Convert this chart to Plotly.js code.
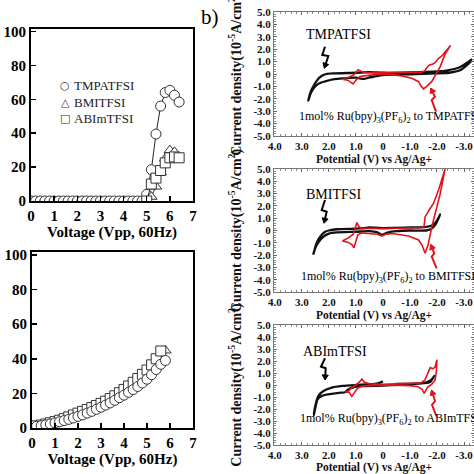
<!DOCTYPE html>
<html><head><meta charset="utf-8">
<script src="https://cdn.plot.ly/plotly-3.0.1.min.js"></script>
<style>html,body{margin:0;padding:0;background:#fff}</style>
</head><body><div id="chart" style="width:474px;height:474px"></div>
<script>
// ---------- (a) top: luminance vs voltage ----------
const seriesNames = ['TMPATFSI', 'BMITFSI', 'ABImTFSI'];
const legendGlyphs = ['○', '△', '□'];
const tlVoltTMPA = [0,0.2,0.4,0.6,0.8,1.0,1.2,1.4,1.6,1.8,2.0,2.2,2.4,2.6,2.8,3.0,3.2,3.4,3.6,3.8,4.0,4.2,4.4,4.6,4.8,5.0,5.2,5.4,5.6,5.8,6.0,6.2,6.4];
const tlValTMPA  = [0,0,0,0,0,0,0,0,0,0,0,0,0,0,0,0,0,0,0,0,0,0,0,0,0,3.9,18.5,39.5,56,64,65.3,62.4,58.4];
const tlVoltBMI  = [5.0,5.2,5.4,5.6,5.8,6.0,6.2];
const tlValBMI   = [0,2.5,8.5,17,25,30,29];
const tlVoltABIm = [5.0,5.2,5.4,5.6,5.8,6.0,6.2,6.4];
const tlValABIm  = [0,10,13.5,18,22.5,25.5,26,25.5];

// ---------- (a) bottom: peak intensity vs voltage ----------
const blVolt = [0.2,0.4,0.6,0.8,1.0,1.2,1.4,1.6,1.8,2.0,2.2,2.4,2.6,2.8,3.0,3.2,3.4,3.6,3.8,4.0,4.2,4.4,4.6,4.8,5.0,5.2,5.4,5.6,5.8];
const blValTMPA = [1.0,1.3,1.8,2.3,2.9,3.6,4.3,5.0,5.8,6.7,7.6,8.6,9.6,10.8,12.0,13.2,14.5,16.0,17.5,19.0,20.6,22.2,24.0,26.0,28.2,30.8,33.8,36.8,39.0];
const blValBMI  = [1.2,1.6,2.2,2.9,3.6,4.4,5.3,6.3,7.4,8.5,9.5,10.6,11.7,13.0,14.3,15.7,17.2,18.9,20.8,22.8,24.8,26.8,29.0,31.3,33.6,36.2,39.0,42.0,44.8];
const blVoltABIm = [0.2,0.4,0.6,0.8,1.0,1.2,1.4,1.6,1.8,2.0,2.2,2.4,2.6,2.8,3.0,3.2,3.4,3.6,3.8,4.0,4.2,4.4,4.6,4.8,5.0,5.2,5.4,5.6];
const blValABIm = [1.3,1.7,2.3,3.0,3.7,4.5,5.4,6.4,7.5,8.6,9.6,10.7,11.8,13.0,14.2,15.5,17.0,18.6,20.4,22.3,24.3,26.4,28.6,31.0,33.5,36.5,40.0,44.5];

// ---------- (b) cyclic voltammograms ----------
const cv1BlackV = [-3.3,-3.1,-2.8,-2.4,-2.0,-1.0,0.0,0.5,1.0,1.8,2.1,2.3,2.45,2.6,2.7,2.76,2.68,2.55,2.35,2.14,1.8,1.5,1.0,0.7,0.5,0.3,0.0,-1.0,-2.0,-2.5,-2.9,-3.1,-3.3];
const cv1BlackI = [1.2,0.9,0.5,0.3,0.2,0.12,0.1,0.15,0.1,0.05,0.0,-0.2,-0.55,-1.1,-1.6,-2.15,-1.6,-1.1,-0.75,-0.6,-0.42,-0.35,-0.3,-0.4,-0.28,-0.2,-0.08,-0.02,0.05,0.12,0.35,0.7,1.1];
const cv1RedV = [1.45,1.3,1.1,1.0,0.92,0.85,0.7,0.3,0.0,-0.5,-1.0,-1.4,-1.55,-1.62,-1.72,-1.85,-1.95,-2.06,-2.18,-2.35,-2.5,-2.3,-2.12,-1.95,-1.81,-1.62,-1.5,-1.4,-1.32,-1.07,-0.7,-0.3,0.0,0.3,0.6,0.85,1.0,1.1,1.2,1.3,1.45,1.45];
const cv1RedI = [-0.3,-0.3,-0.1,0.1,0.35,0.25,0.1,0.1,0.1,0.12,0.12,0.15,0.25,0.5,0.73,0.8,0.95,1.27,1.45,1.9,2.3,1.6,0.6,-0.05,-0.6,-1.0,-1.2,-0.95,-0.62,-0.35,-0.15,-0.05,0.0,-0.05,-0.1,-0.2,-0.5,-0.8,-0.65,-0.5,-0.45,-0.3];

const cv2BlackV = [-2.12,-2.0,-1.85,-1.62,-1.0,0.0,0.5,0.7,1.0,1.7,2.0,2.14,2.3,2.45,2.57,2.5,2.4,2.2,2.0,1.7,1.0,0.5,0.2,0.04,-0.2,-0.5,-1.0,-1.6,-1.8,-1.95,-2.12];
const cv2BlackI = [1.3,0.8,0.45,0.3,0.25,0.2,0.25,0.2,0.15,0.1,0.0,-0.1,-0.45,-1.0,-1.9,-1.4,-1.0,-0.5,-0.25,-0.15,-0.1,-0.05,-0.15,-0.35,-0.15,-0.05,0.0,0.0,0.15,0.5,1.3];
const cv2RedV = [1.5,1.28,1.1,1.02,0.96,0.9,0.8,0.4,0.0,-0.5,-1.0,-1.4,-1.52,-1.56,-1.71,-1.87,-2.06,-2.18,-2.3,-2.12,-1.93,-1.81,-1.67,-1.56,-1.45,-1.32,-0.95,-0.33,-0.1,0.04,0.2,0.5,0.8,0.93,1.0,1.07,1.15,1.3,1.5];
const cv2RedI = [-0.85,-0.6,-0.3,0.3,0.65,0.35,0.15,0.18,0.15,0.18,0.2,0.22,0.3,1.1,1.67,2.2,3.3,4.1,5.0,3.0,1.42,0.31,-1.18,-1.85,-1.2,-0.77,-0.45,-0.25,-0.3,-0.45,-0.3,-0.25,-0.2,-0.35,-0.9,-1.4,-1.15,-0.95,-0.85];

const cv3BlackV = [0.0,0.1,0.3,0.6,1.0,1.5,1.89,2.2,2.39,2.5,2.56,2.5,2.42,2.3,2.1,1.83,1.55,1.4,1.3,1.1,0.8,0.0,-1.0,-1.5,-1.7,-1.8,-1.9,-1.75,-1.5,-1.0,-0.5];
const cv3BlackI = [0.3,0.2,0.1,0.05,0.0,-0.08,-0.22,-0.5,-0.92,-1.7,-2.5,-1.9,-1.2,-0.95,-0.8,-0.72,-0.64,-0.6,-0.4,-0.2,-0.1,-0.05,0.05,0.15,0.3,0.45,0.75,0.25,0.15,0.1,0.1];
const cv3RedV = [1.4,1.25,1.15,1.0,0.85,0.78,0.7,0.5,0.0,-0.5,-1.0,-1.4,-1.55,-1.62,-1.7,-1.75,-1.85,-1.93,-2.0,-1.98,-1.93,-1.8,-1.65,-1.53,-1.45,-1.3,-1.0,-0.5,0.0,0.5,0.8,0.95,1.05,1.15,1.25,1.4];
const cv3RedI = [-0.6,-0.45,-0.2,0.0,0.3,0.5,0.25,0.1,0.05,0.1,0.12,0.18,0.4,0.75,1.2,1.45,1.35,1.5,2.1,1.2,0.4,0.05,-0.2,-0.7,-0.35,-0.15,-0.05,-0.02,0.0,-0.05,-0.1,-0.3,-0.6,-0.95,-0.6,-0.6];

const cvXTickVals = [4,3,2,1,0,-1,-2,-3];
const cvXTickText = ['4.0','3.0','2.0','1.0','0','-1.0','-2.0','-3.0'];
const cvYTickVals = [5,4,3,2,1,0,-1,-2,-3,-4,-5];
const cvYTickText = ['5.0','4.0','3.0','2.0','1.0','0','-1.0','-2.0','-3.0','-4.0','-5.0'];
const cvLabels = ['TMPATFSI','BMITFSI','ABImTFSI'];
const redLabels = ['1mol% Ru(bpy)<sub>3</sub>(PF<sub>6</sub>)<sub>2</sub> to TMPATFSI',
                   '1mol% Ru(bpy)<sub>3</sub>(PF<sub>6</sub>)<sub>2</sub> to BMITFSI',
                   '1mol% Ru(bpy)<sub>3</sub>(PF<sub>6</sub>)<sub>2</sub> to ABImTFSI'];

// ---------- styling ----------
const W = 474;
const SERIF = '"Liberation Serif", "Times New Roman", serif';
const RED = '#e3131b';
const fx = p => p / W;           // pixel -> paper x
const fy = p => 1 - p / W;       // pixel -> paper y

const mk = (sym) => ({symbol: sym, size: 10, color: '#ffffff', line: {color: '#333', width: 1}});

const traces = [
  {x: tlVoltTMPA, y: tlValTMPA, xaxis:'x', yaxis:'y', mode:'lines+markers', line:{color:'#222', width:1}, marker: mk('circle'), name: seriesNames[0]},
  {x: tlVoltBMI,  y: tlValBMI,  xaxis:'x', yaxis:'y', mode:'lines+markers', line:{color:'#222', width:1}, marker: mk('triangle-up'), name: seriesNames[1]},
  {x: tlVoltABIm, y: tlValABIm, xaxis:'x', yaxis:'y', mode:'lines+markers', line:{color:'#222', width:1}, marker: mk('square'), name: seriesNames[2]},
  {x: blVolt, y: blValBMI,  xaxis:'x2', yaxis:'y2', mode:'markers', marker: mk('triangle-up'), name: seriesNames[1]},
  {x: blVoltABIm, y: blValABIm, xaxis:'x2', yaxis:'y2', mode:'markers', marker: mk('square'), name: seriesNames[2]},
  {x: blVolt, y: blValTMPA, xaxis:'x2', yaxis:'y2', mode:'markers', marker: mk('circle'), name: seriesNames[0]},
  // CV
  {x: cv1BlackV, y: cv1BlackI, xaxis:'x3', yaxis:'y3', mode:'lines', line:{color:'#111', width:2.3, shape:'spline', smoothing:0.6}},
  {x: cv1RedV, y: cv1RedI, xaxis:'x3', yaxis:'y3', mode:'lines', line:{color:RED, width:1.6}},
  {x: cv2BlackV, y: cv2BlackI, xaxis:'x4', yaxis:'y4', mode:'lines', line:{color:'#111', width:2.3, shape:'spline', smoothing:0.6}},
  {x: cv2RedV, y: cv2RedI, xaxis:'x4', yaxis:'y4', mode:'lines', line:{color:RED, width:1.6}},
  {x: cv3BlackV, y: cv3BlackI, xaxis:'x5', yaxis:'y5', mode:'lines', line:{color:'#111', width:2.3, shape:'spline', smoothing:0.6}},
  {x: cv3RedV, y: cv3RedI, xaxis:'x5', yaxis:'y5', mode:'lines', line:{color:RED, width:1.6}},
];

function leftX(dom, anchor) {
  return {domain: dom, anchor: anchor, range: [0, 7], dtick: 1, tick0: 0,
    ticks: 'inside', ticklen: 5, tickwidth: 1.5, tickcolor: '#000',
    showline: true, linewidth: 2, linecolor: '#000', mirror: true, showgrid: false, zeroline: false,
    tickfont: {family: SERIF, size: 15, color: '#000', weight: 'bold'},
    title: {text: '<b>Voltage (Vpp, 60Hz)</b>', font: {family: SERIF, size: 15, color: '#000'}, standoff: 0}};
}
function leftY(dom, anchor, top) {
  return {domain: dom, anchor: anchor, range: [0, top], dtick: 20, tick0: 0,
    ticks: 'inside', ticklen: 5, tickwidth: 1.5, tickcolor: '#000',
    showline: true, linewidth: 2, linecolor: '#000', mirror: true, showgrid: false, zeroline: false,
    tickfont: {family: SERIF, size: 15, color: '#000', weight: 'bold'}};
}
function cvX(anchor) {
  return {domain: [fx(274), 1], anchor: anchor, range: [4.03, -3.37],
    tickmode: 'array', tickvals: cvXTickVals, ticktext: cvXTickText,
    ticks: 'inside', ticklen: 3, tickcolor: '#666',
    minor: {ticks: 'inside', ticklen: 2, tickcolor: '#888', dtick: 0.2, tick0: 0},
    showline: true, linewidth: 1, linecolor: '#777', mirror: 'allticks', showgrid: false, zeroline: false,
    tickfont: {family: SERIF, size: 11, color: '#111', weight: 'bold'},
    title: {text: '<b>Potential (V) vs Ag/Ag+</b>', font: {family: SERIF, size: 11.5, color: '#111'}, standoff: 3}};
}
function cvY(dom, anchor) {
  return {domain: dom, anchor: anchor, range: [-5, 5],
    tickmode: 'array', tickvals: cvYTickVals, ticktext: cvYTickText,
    ticks: 'inside', ticklen: 3, tickcolor: '#666',
    minor: {ticks: 'inside', ticklen: 2, tickcolor: '#888', dtick: 0.2, tick0: 0},
    showline: true, linewidth: 1, linecolor: '#777', mirror: 'allticks', showgrid: false, zeroline: false,
    tickfont: {family: SERIF, size: 11, color: '#111', weight: 'bold'},
    title: {text: '<b>Current density(10<sup>-5</sup>A/cm<sup>2</sup>)</b>', font: {family: SERIF, size: 14, color: '#111'}, standoff: 8}};
}

const legendGlyphPos = [[65, 85], [65, 102], [65, 119]];
const legendTextPos = [[72, 85], [72, 102], [72, 119]];
const cvBlackText = [[338, 35], [334, 194], [335, 351]];
const cvRedText = [[297, 117], [299, 277], [298, 419]];
const blackZig = [
  [[325,46.7],[322.3,55],[328.3,56],[324.3,68.3]],
  [[325,200],[321.7,210],[326.7,211.7],[324,223.3]],
  [[325,358.3],[321,366.7],[325.7,368.3],[325,380]]];
const redZig = [
  [[436,111.7],[431.7,100],[435,96.7],[430.7,88]],
  [[436.7,268.3],[431.7,256.7],[434.3,253.3],[430.7,244.3]],
  [[436.7,416.7],[432,405],[435,401],[431.5,390]]];

const annotations = [
  {text: 'b)', x: fx(210), y: fy(17), xref: 'paper', yref: 'paper', xanchor: 'center', yanchor: 'middle', showarrow: false,
   font: {family: SERIF, size: 21, color: '#000'}},
];
for (let i = 0; i < 3; i++) {
  annotations.push({text: legendGlyphs[i], x: fx(legendGlyphPos[i][0]), y: fy(legendGlyphPos[i][1]),
    xref: 'paper', yref: 'paper', xanchor: 'center', yanchor: 'middle', showarrow: false,
    font: {family: '"DejaVu Sans", sans-serif', size: 11, color: '#333'}});
  annotations.push({text: seriesNames[i], x: fx(legendTextPos[i][0]), y: fy(legendTextPos[i][1]),
    xref: 'paper', yref: 'paper', xanchor: 'left', yanchor: 'middle', showarrow: false,
    font: {family: SERIF, size: 13, color: '#222'}});
}
const shapes = [];
function zig(pts, color) {
  const P = p => fx(p[0]) + ' ' + fy(p[1]);
  const t = pts[3], s = pts[2];
  const dx = t[0] - s[0], dy = t[1] - s[1], L = Math.hypot(dx, dy);
  const ux = dx / L, uy = dy / L, hl = 5, hw = 3;
  const base = [t[0] - ux * hl, t[1] - uy * hl];
  const d = 'M ' + P(pts[0]) + ' L ' + P(pts[1]) + ' L ' + P(pts[2]) + ' L ' + P(base);
  shapes.push({type: 'path', xref: 'paper', yref: 'paper', path: d, line: {color: color, width: 2}});
  const h = 'M ' + P(t) + ' L ' + P([base[0] - uy * hw, base[1] + ux * hw]) + ' L ' + P([base[0] + uy * hw, base[1] - ux * hw]) + ' Z';
  shapes.push({type: 'path', xref: 'paper', yref: 'paper', path: h, line: {color: color, width: 1}, fillcolor: color});
}
for (let i = 0; i < 3; i++) {
  annotations.push({text: cvLabels[i], x: fx(cvBlackText[i][0]), y: fy(cvBlackText[i][1]), xref: 'paper', yref: 'paper',
    xanchor: 'center', yanchor: 'middle', showarrow: false, font: {family: SERIF, size: 14, color: '#000'}});
  annotations.push({text: redLabels[i], x: fx(cvRedText[i][0]), y: fy(cvRedText[i][1]), xref: 'paper', yref: 'paper',
    xanchor: 'left', yanchor: 'middle', showarrow: false, font: {family: SERIF, size: 12, color: '#000'}});
  zig(blackZig[i], '#000');
  zig(redZig[i], RED);
}

const layout = {
  width: 474, height: 474, margin: {l: 0, r: 0, t: 0, b: 0},
  paper_bgcolor: '#fff', plot_bgcolor: '#fff',
  font: {family: SERIF, color: '#000'},
  xaxis: leftX([fx(31), fx(193)], 'y'),
  yaxis: leftY([fy(201), fy(29)], 'x', 101.5),
  xaxis2: leftX([fx(32), fx(193)], 'y2'),
  yaxis2: leftY([fy(428), fy(252)], 'x2', 101.7),
  xaxis3: cvX('y3'), yaxis3: cvY([fy(136), fy(12)], 'x3'),
  xaxis4: cvX('y4'), yaxis4: cvY([fy(292), fy(169)], 'x4'),
  xaxis5: cvX('y5'), yaxis5: cvY([fy(445), fy(325)], 'x5'),
  showlegend: false,
  annotations: annotations,
  shapes: shapes,
};

Plotly.newPlot('chart', traces, layout, {staticPlot: true, displayModeBar: false});
</script></body></html>
